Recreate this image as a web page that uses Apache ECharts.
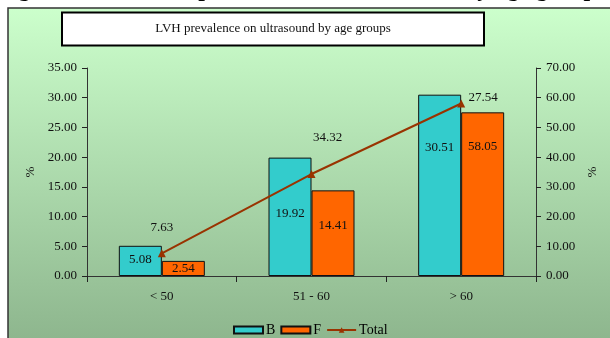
<!DOCTYPE html>
<html><head><meta charset="utf-8">
<script src="https://cdn.jsdelivr.net/npm/echarts@6/dist/echarts.min.js"></script>
<style>html,body{margin:0;padding:0;background:#fff;}#c{width:610px;height:338px;}</style>
</head><body><div id="c"></div>
<script>
const categories = ['< 50', '51 - 60', '> 60'];
const seriesB = [5.08, 19.92, 30.51];
const seriesF = [2.54, 14.41, 27.54];
const seriesTotal = [7.63, 34.32, 58.05];
// value labels as printed on the reference chart (the last F/Total labels are swapped there)
const labelsB = ['5.08', '19.92', '30.51'];
const labelsF = ['2.54', '14.41', '58.05'];
const labelsTotal = ['7.63', '34.32', '27.54'];
const leftTicks = [0, 5, 10, 15, 20, 25, 30, 35];
const rightTicks = [0, 10, 20, 30, 40, 50, 60, 70];

// style: where each value label sits (px below bar top / offset from point)
const dropB = [14, 56, 53];
const dropF = [8, 35, 34];
const offTotal = [[0, -26], [16, -36], [22, -6]];

const FONT = '"Liberation Serif", "Times New Roman", serif';
const chart = echarts.init(document.getElementById('c'), null, {renderer: 'canvas'});

function barData(vals, labels, drops) {
  return vals.map((v, i) => ({
    value: v,
    label: {show: true, formatter: labels[i], position: ['50%', drops[i]], align: 'center', verticalAlign: 'middle'}
  }));
}

chart.setOption({
  animation: false,
  graphic: [
    {type: 'rect', z: -10, shape: {x: 8, y: 8, width: 610, height: 340},
      style: {fill: new echarts.graphic.LinearGradient(0, 0, 0, 1, [{offset: 0, color: '#ccffcc'}, {offset: 1, color: '#8cb48c'}]),
        stroke: '#333', lineWidth: 1.5}},
    {type: 'text', z: 5, left: -3, top: -22,
      style: {text: 'Figure 3: The LVH prevalence on ultrasound by age groups', font: 'bold 24px ' + FONT, fill: '#000'}},
    {type: 'rect', z: 5, shape: {x: 62, y: 12.5, width: 422, height: 33},
      style: {fill: '#fff', stroke: '#000', lineWidth: 2}},
    {type: 'text', z: 6, x: 273, y: 29,
      style: {text: 'LVH prevalence on ultrasound by age groups', font: '13px ' + FONT, fill: '#111', align: 'center', verticalAlign: 'middle'}}
  ],
  grid: {left: 87, right: 74, top: 68, bottom: 62},
  legend: {
    bottom: 1, left: 233, padding: 0, itemWidth: 29, itemHeight: 7, itemGap: 5,
    textStyle: {fontFamily: FONT, fontSize: 14, color: '#000', padding: [0, 0, 0, -2]},
    data: [{name: 'B', icon: 'rect'}, {name: 'F', icon: 'rect'}, {name: 'Total'}]
  },
  xAxis: {
    type: 'category', data: categories,
    axisLine: {lineStyle: {color: '#333', width: 1}},
    axisTick: {show: true, length: 6, interval: 0, lineStyle: {color: '#222'}},
    axisLabel: {fontFamily: FONT, fontSize: 13, color: '#111', margin: 14}
  },
  yAxis: [
    {type: 'value', min: leftTicks[0], max: leftTicks[leftTicks.length - 1], interval: leftTicks[1] - leftTicks[0],
      name: '%', nameLocation: 'middle', nameGap: 49, nameRotate: 90,
      nameTextStyle: {fontFamily: FONT, fontSize: 13, color: '#111'},
      axisLine: {show: true, lineStyle: {color: '#333'}},
      axisTick: {show: true, length: 5, lineStyle: {color: '#222'}},
      splitLine: {show: false},
      axisLabel: {fontFamily: FONT, fontSize: 13, color: '#111', margin: 10, formatter: v => v.toFixed(2)}},
    {type: 'value', min: rightTicks[0], max: rightTicks[rightTicks.length - 1], interval: rightTicks[1] - rightTicks[0],
      name: '%', nameLocation: 'middle', nameGap: 47, nameRotate: 90,
      nameTextStyle: {fontFamily: FONT, fontSize: 13, color: '#111'},
      axisLine: {show: true, lineStyle: {color: '#333'}},
      axisTick: {show: true, length: 5, lineStyle: {color: '#222'}},
      splitLine: {show: false},
      axisLabel: {fontFamily: FONT, fontSize: 13, color: '#111', margin: 10, formatter: v => v.toFixed(2)}}
  ],
  series: [
    {name: 'B', type: 'bar', barWidth: 43, barGap: '0%', z: 2,
      itemStyle: {color: '#33cccc', borderColor: '#111', borderWidth: 1},
      label: {fontFamily: FONT, fontSize: 13, color: '#111'},
      data: barData(seriesB, labelsB, dropB)},
    {name: 'F', type: 'bar', barWidth: 43, z: 2,
      itemStyle: {color: '#ff6600', borderColor: '#111', borderWidth: 1},
      label: {fontFamily: FONT, fontSize: 13, color: '#111'},
      data: barData(seriesF, labelsF, dropF)},
    {name: 'Total', type: 'line', yAxisIndex: 1, z: 4,
      symbol: 'triangle', symbolSize: 8,
      lineStyle: {color: '#993300', width: 2},
      itemStyle: {color: '#993300'},
      label: {fontFamily: FONT, fontSize: 13, color: '#111'},
      data: seriesTotal.map((v, i) => ({
        value: v,
        label: {show: true, formatter: labelsTotal[i], position: 'inside', offset: offTotal[i]}
      }))}
  ]
});
</script></body></html>
